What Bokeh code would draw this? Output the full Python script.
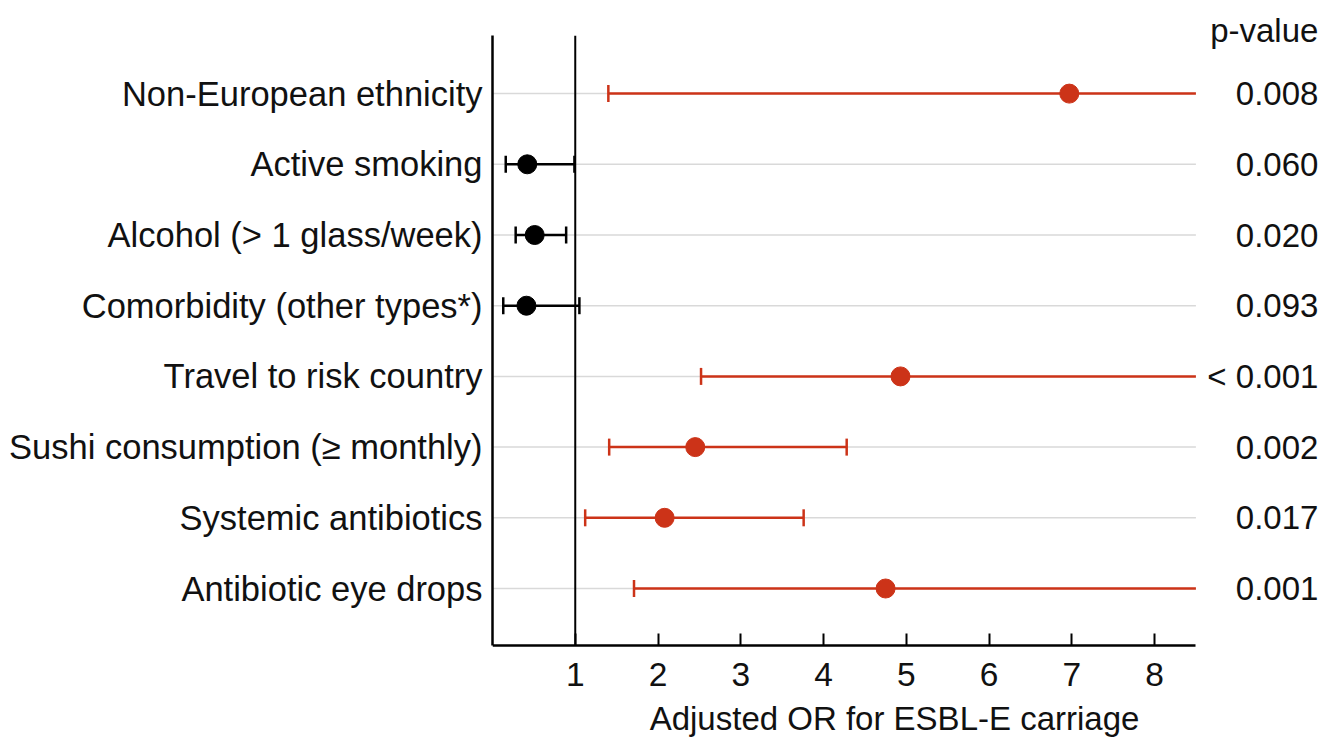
import math
from bokeh.plotting import figure
from bokeh.models import ColumnDataSource, FixedTicker, Range1d
from bokeh.core.properties import value
from bokeh.embed import file_html
from bokeh.resources import INLINE

# ---- data ----
factors = [
    "Non-European ethnicity",
    "Active smoking",
    "Alcohol (> 1 glass/week)",
    "Comorbidity (other types*)",
    "Travel to risk country",
    "Sushi consumption (\u2265 monthly)",
    "Systemic antibiotics",
    "Antibiotic eye drops",
]
odds_ratio = [6.97, 0.42, 0.51, 0.41, 4.93, 2.45, 2.08, 4.75]
ci_low = [1.40, 0.16, 0.28, 0.13, 2.52, 1.41, 1.12, 1.71]
ci_high = [9.0, 0.99, 0.89, 1.05, 9.0, 4.28, 3.76, 9.0]  # 9.0 = beyond the axis end
p_values = ["0.008", "0.060", "0.020", "0.093", "< 0.001", "0.002", "0.017", "0.001"]
significant = [True, False, False, False, True, True, True, True]
x_ticks = [1, 2, 3, 4, 5, 6, 7, 8]
x_title = "Adjusted OR for ESBL-E carriage"
p_header = "p-value"

# ---- style / layout ----
RED = "#CC3318"
BLACK = "#000000"
FONT = "Liberation Sans"
TXT = "#111111"
X_END = 8.5                 # end of the drawn x axis
Y_LO, Y_HI = 0.194, 8.82    # extent of the drawn y axis
P_X = 9.98                  # right edge of the p-value column (data units)
P_HEAD_Y = 8.893            # p-value header position
TITLE_X, TITLE_Y = 4.858, -0.835

n = len(factors)
ys = [n - i for i in range(n)]
colors = [RED if s else BLACK for s in significant]
hi_shown = [min(h, X_END) for h in ci_high]

src = ColumnDataSource(dict(y=ys, orr=odds_ratio, lo=ci_low, hi=hi_shown, color=colors))
cap_idx = [i for i, h in enumerate(ci_high) if h <= X_END]
cap_src = ColumnDataSource(dict(y=[ys[i] for i in cap_idx], hi=[ci_high[i] for i in cap_idx],
                                color=[colors[i] for i in cap_idx]))
grid_src = ColumnDataSource(dict(y=ys, x0=[0] * n, x1=[X_END] * n))
p_src = ColumnDataSource(dict(y=ys + [P_HEAD_Y], x=[P_X] * (n + 1), t=p_values + [p_header]))

p = figure(width=1325, height=741, output_backend="svg", toolbar_location=None,
           x_range=Range1d(0, 10.066), y_range=Range1d(-1.164, 9.317),
           min_border_left=492, min_border_right=0, min_border_top=0, min_border_bottom=0)
p.outline_line_color = None
p.background_fill_color = "white"
p.border_fill_color = "white"
p.xgrid.grid_line_color = None
p.ygrid.grid_line_color = None

# horizontal guide lines
p.segment(x0="x0", y0="y", x1="x1", y1="y", line_color="#d9d9d9", line_width=1.5,
          source=grid_src, level="underlay")

# reference line at OR = 1
p.segment(x0=[1], y0=[Y_LO], x1=[1], y1=[Y_HI], line_color="black", line_width=2)

# CI lines, caps, points
p.segment(x0="lo", y0="y", x1="hi", y1="y", line_color="color", line_width=2.5, source=src)
p.scatter(x="lo", y="y", marker="dash", angle=math.pi / 2, size=17, line_width=2.5,
          line_color="color", source=src)
p.scatter(x="hi", y="y", marker="dash", angle=math.pi / 2, size=17, line_width=2.5,
          line_color="color", source=cap_src)
p.scatter(x="orr", y="y", marker="circle", size=19, fill_color="color", line_color="color", source=src)

# p-value column
p.text(x="x", y="y", text="t", source=p_src, text_align="right", text_baseline="middle",
       text_font=value(FONT), text_font_size="33px", text_color=TXT)

# x axis title
p.text(x=[TITLE_X], y=[TITLE_Y], text=[x_title], text_align="center", text_baseline="middle",
       text_font=value(FONT), text_font_size="33px", text_color=TXT)

# y axis
ya = p.yaxis[0]
ya.ticker = FixedTicker(ticks=ys)
ya.bounds = (Y_LO, Y_HI)
ya.major_label_overrides = {y: f for y, f in zip(ys, factors)}
ya.major_tick_line_color = None
ya.minor_tick_line_color = None
ya.axis_line_width = 2.5
ya.axis_line_color = "black"
ya.major_label_standoff = 4
ya.major_label_text_font = FONT
ya.major_label_text_font_size = "34.5px"
ya.major_label_text_color = TXT

# x axis (drawn at the bottom of the y extent)
xa = p.xaxis[0]
xa.fixed_location = Y_LO
xa.ticker = FixedTicker(ticks=x_ticks)
xa.bounds = (0, X_END)
xa.major_tick_in = 12
xa.major_tick_out = 0
xa.major_tick_line_width = 2
xa.minor_tick_line_color = None
xa.axis_line_width = 2.5
xa.axis_line_color = "black"
xa.major_label_standoff = 18
xa.major_label_text_font = FONT
xa.major_label_text_font_size = "33.5px"
xa.major_label_text_color = TXT

open("out.html", "w").write(file_html(p, INLINE))
